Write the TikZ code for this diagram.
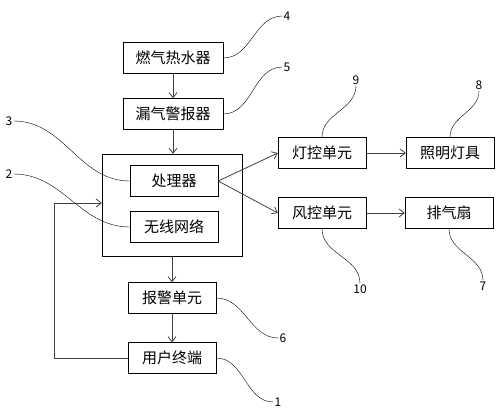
\documentclass[tikz,border=0pt]{standalone}
\usepackage{fontspec}
\setmainfont{Noto Sans CJK SC}
\usetikzlibrary{arrows.meta}

\begin{document}
\begin{tikzpicture}[x=1pt,y=-1pt,>={Straight Barb[length=5pt,width=8pt]},
	box/.style={draw,minimum height=31pt,inner sep=0pt,font=\fontsize{15}{15}\selectfont},
	num/.style={inner sep=1pt,font=\fontsize{12}{12}\selectfont},
	line/.style={draw=black!75,line width=0.8pt}]
	\useasboundingbox (0,0) rectangle (502,414);

	\node[box,minimum width=100pt] at (173,58)  (N4) {燃气热水器};
	\node[box,minimum width=100pt] at (173,114) (N5) {漏气警报器};
	\node[draw,minimum width=140pt,minimum height=102pt] at (172,205) (BOX) {};
	\node[box,minimum width=88pt] at (174,181) (N3) {处理器};
	\node[box,minimum width=88pt] at (174,227) (N2) {无线网络};
	\node[box,minimum width=88pt] at (172,298) (N6) {报警单元};
	\node[box,minimum width=88pt] at (172,358) (N1) {用户终端};
	\node[box,minimum width=88pt] at (322,153) (N9) {灯控单元};
	\node[box,minimum width=88pt] at (322,213) (N10) {风控单元};
	\node[box,minimum width=88pt] at (450,153) (N8) {照明灯具};
	\node[box,minimum width=88pt] at (449,213) (N7) {排气扇};
	\coordinate (C1) at (54,203);

	\node[num] at (9,121)   (L3) {3};
	\node[num] at (9,174)   (L2) {2};
	\node[num] at (287,16)  (L4) {4};
	\node[num] at (287,67)  (L5) {5};
	\node[num] at (356,80)  (L9) {9};
	\node[num] at (479,85)  (L8) {8};
	\node[num] at (360,289) (L10) {10};
	\node[num] at (483,286) (L7) {7};
	\node[num] at (283,338) (L6) {6};
	\node[num] at (278,402) (L1) {1};

	\draw[line,->] (N4) -- (N5);
	\draw[line,->] (N5) -- (N5.south |- BOX.north);
	\draw[line,->] (BOX.south -| N6) -- (N6);
	\draw[line,->] (N6) -- (N1);
	\draw[line,->] (N1.west) -| (C1) -- (C1 -| BOX.west);
	\draw[line,->] (N3.east) -- (N9.west);
	\draw[line,->] (N3.east) -- (N10.west);
	\draw[line,->] (N9) -- (N8);
	\draw[line,->] (N10) -- (N7);

	\draw (L3.east) to[out=0,in=180] (N3.west);
	\draw (L2.east) to[out=0,in=180] (N2.west);
	\draw (N4.east) to[out=0,in=180] (L4.west);
	\draw (N5.east) to[out=0,in=180] (L5.west);
	\draw (N9.north) to[out=90,in=-90] (L9.south);
	\draw (N8.north) to[out=90,in=-90] (L8.south);
	\draw (N10.south) to[out=-90,in=90] (L10.north);
	\draw (N7.south) to[out=-90,in=90] (L7.north);
	\draw (N6.east) to[out=0,in=180] (L6.west);
	\draw (N1.east) to[out=0,in=180] (L1.west);
\end{tikzpicture}
\end{document}
